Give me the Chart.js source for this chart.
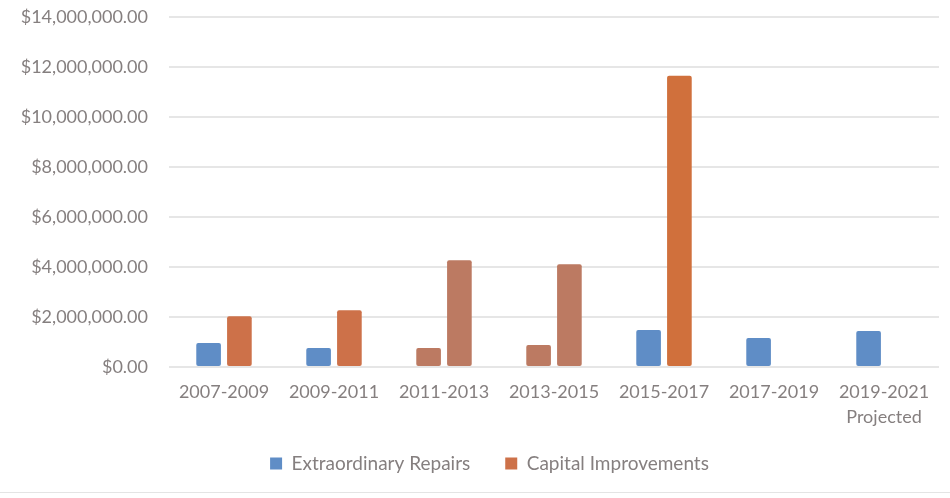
<!DOCTYPE html>
<html>
<head>
<meta charset="utf-8">
<script src="https://cdn.jsdelivr.net/npm/chart.js@4"></script>
<style>
  html, body { margin: 0; padding: 0; background: #fff; }
  #wrap { position: relative; width: 950px; height: 498px; }
  #rule { position: absolute; left: 0; top: 492px; width: 950px; height: 1px; background: #e4e4e4; }
</style>
</head>
<body>
<div id="wrap"><canvas id="costChart" width="950" height="498"></canvas><div id="rule"></div></div>
<script>
const periods = ['2007-2009', '2009-2011', '2011-2013', '2013-2015', '2015-2017', '2017-2019', ['2019-2021', 'Projected']];
const repairs = [960000, 760000, 760000, 880000, 1480000, 1160000, 1440000];
const improvements = [2030000, 2270000, 4270000, 4110000, 11650000, null, null];
const repairColors = ['#5F8DC6', '#5F8DC6', '#BC7A62', '#BC7A62', '#5F8DC6', '#5F8DC6', '#5F8DC6'];
const improvementColors = ['#CD7149', '#CD7149', '#BC7A62', '#BC7A62', '#D0703C', '#CD7149', '#CD7149'];

const textColor = '#857F7F';
const fontFamily = 'Lato, "Open Sans", sans-serif';

const ctx = document.getElementById('costChart').getContext('2d');
ctx.letterSpacing = '0.5px';  // labels in the picture are a bit spaced out

// tick labels may run outside their own box (the "Projected" line, the long $ labels)
const noLabelClip = scale => { scale._computeLabelArea = () => undefined; };

new Chart(ctx, {
  type: 'bar',
  data: {
    labels: periods,
    datasets: [
      {
        label: 'Extraordinary Repairs',
        data: repairs,
        backgroundColor: repairColors,
        borderRadius: 2,
        borderSkipped: false
      },
      {
        label: 'Capital Improvements',
        data: improvements,
        backgroundColor: improvementColors,
        borderRadius: 2,
        borderSkipped: false
      }
    ]
  },
  options: {
    responsive: false,
    animation: false,
    categoryPercentage: 0.56,
    barPercentage: 0.8,
    layout: { padding: { top: 17, right: 11, left: 40, bottom: 15 } },
    plugins: {
      legend: {
        position: 'bottom',
        labels: {
          color: textColor,
          font: { family: fontFamily, size: 19 },
          boxWidth: 12,
          boxHeight: 12,
          padding: 35,
          generateLabels: chart => chart.data.datasets.map((ds, i) => ({
            text: ds.label,
            fillStyle: i === 0 ? '#5F8DC6' : '#CD7149',
            strokeStyle: 'transparent',
            lineWidth: 0,
            datasetIndex: i,
            fontColor: textColor
          }))
        }
      },
      tooltip: { enabled: false }
    },
    scales: {
      x: {
        grid: { display: false },
        border: { display: false },
        afterFit: scale => {
          scale.height = 52;
          noLabelClip(scale);
        },
        ticks: {
          color: textColor,
          font: { family: fontFamily, size: 18, lineHeight: 1.39 },
          padding: 5,
          maxRotation: 0
        }
      },
      y: {
        min: 0,
        max: 14000000,
        afterFit: scale => {
          scale.width = 129;
          scale.paddingTop = 0;
          scale.paddingBottom = 0;
          noLabelClip(scale);
        },
        grid: { color: '#E6E6E6', lineWidth: 2, drawTicks: false },
        border: { display: false },
        ticks: {
          stepSize: 2000000,
          color: textColor,
          font: { family: fontFamily, size: 18, lineHeight: 1 },
          padding: 21,
          callback: v => '$' + v.toLocaleString('en-US', { minimumFractionDigits: 2, maximumFractionDigits: 2 })
        }
      }
    }
  }
});
</script>
</body>
</html>
